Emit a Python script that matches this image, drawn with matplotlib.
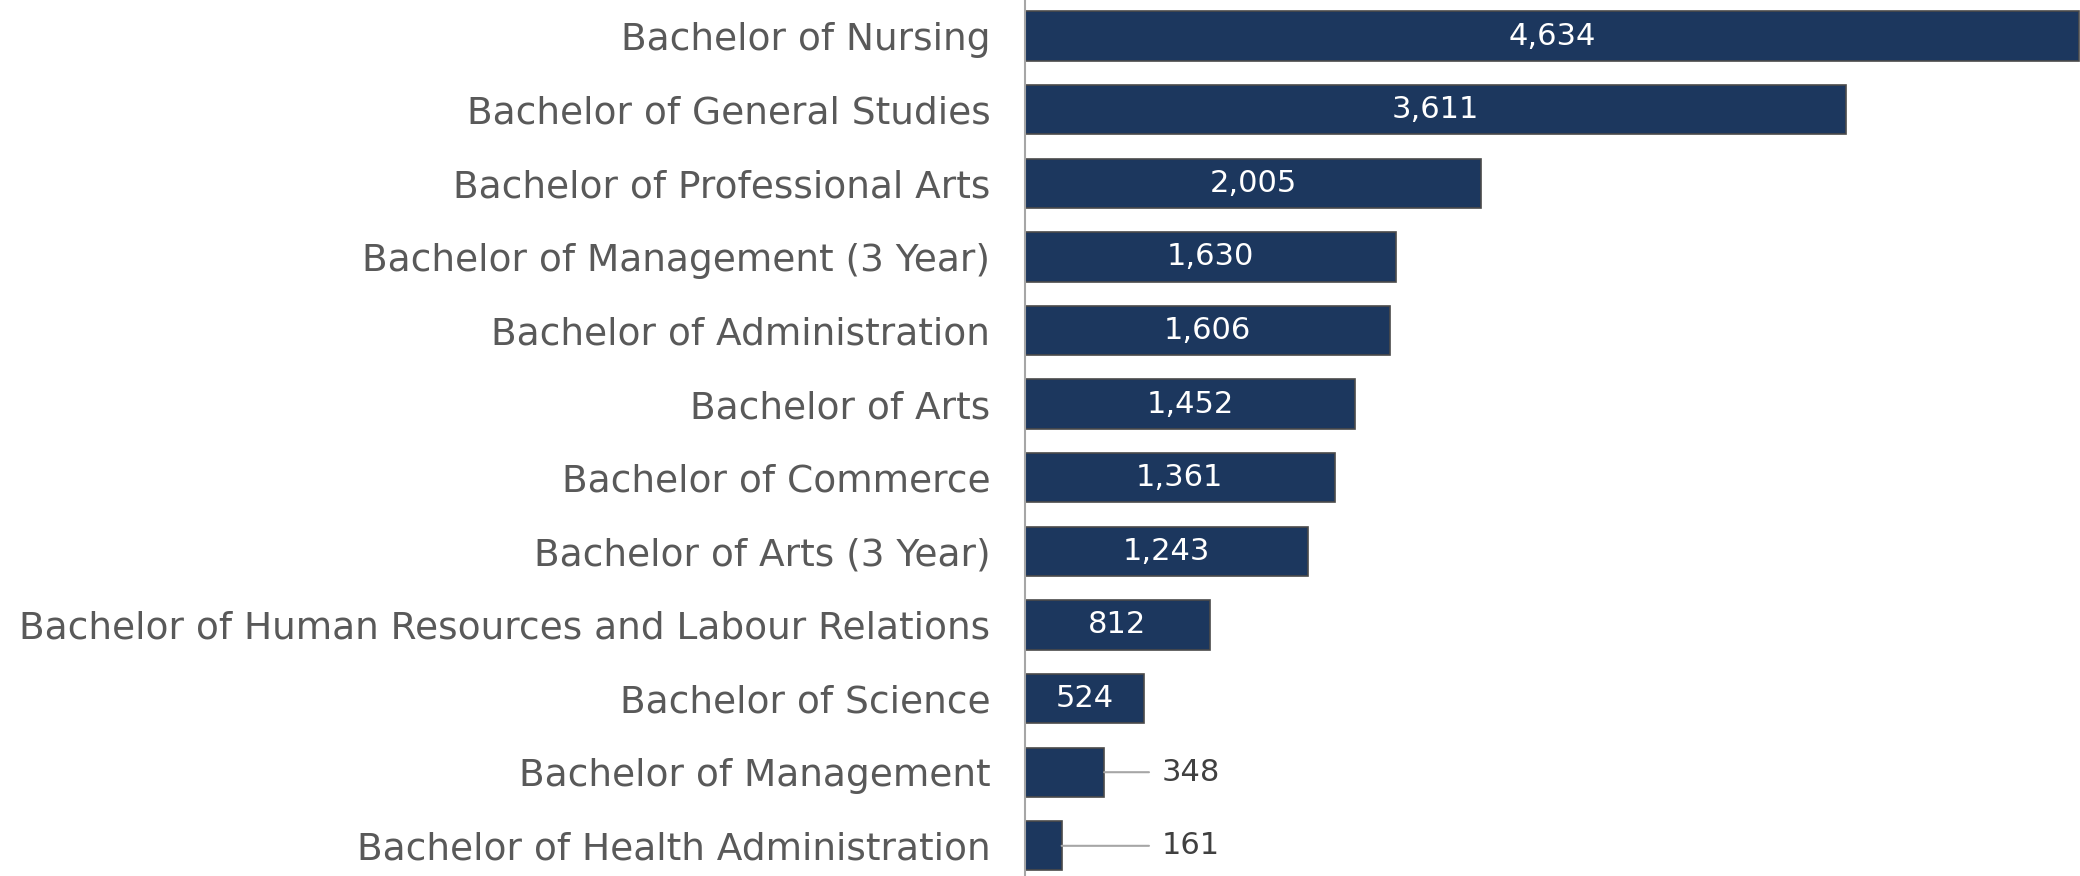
import matplotlib
matplotlib.use("Agg")
import matplotlib.pyplot as plt

categories = [
    "Bachelor of Nursing",
    "Bachelor of General Studies",
    "Bachelor of Professional Arts",
    "Bachelor of Management (3 Year)",
    "Bachelor of Administration",
    "Bachelor of Arts",
    "Bachelor of Commerce",
    "Bachelor of Arts (3 Year)",
    "Bachelor of Human Resources and Labour Relations",
    "Bachelor of Science",
    "Bachelor of Management",
    "Bachelor of Health Administration",
]
values = [4634, 3611, 2005, 1630, 1606, 1452, 1361, 1243, 812, 524, 348, 161]

W, H = 2080, 876
fig = plt.figure(figsize=(W / 100, H / 100), dpi=100)
ax = fig.add_axes([1025 / W, 0, 1 - 1025 / W, 1])

bar_color = "#1c375e"
ypos = list(range(len(categories)))
ax.barh(ypos, values, height=0.67, color=bar_color, edgecolor="#4a4a4a", linewidth=1.2)
ax.set_xlim(0, 4638)
ax.set_ylim(11.41, -0.49)

ax.set_yticks(ypos)
ax.set_yticklabels(categories, fontsize=27, color="#595959", family="DejaVu Sans")
for lbl in ax.get_yticklabels():
    lbl.set_verticalalignment("center_baseline")
ax.tick_params(axis="y", length=0, pad=25)
ax.set_xticks([])
for s in ["top", "right", "bottom"]:
    ax.spines[s].set_visible(False)
ax.spines["left"].set_color("#a6a6a6")
ax.spines["left"].set_linewidth(1.5)

for y, v in zip(ypos, values):
    txt = f"{v:,}"
    if v >= 500:
        ax.text(v / 2, y, txt, ha="center", va="center", color="white", fontsize=22)
    else:
        ax.annotate(txt, xy=(v, y), xytext=(600, y), ha="left", va="center",
                    color="#404040", fontsize=22,
                    arrowprops=dict(arrowstyle="-", color="#a6a6a6", lw=1.5,
                                    shrinkA=7, shrinkB=0))

fig.savefig("out.png", dpi=100)
